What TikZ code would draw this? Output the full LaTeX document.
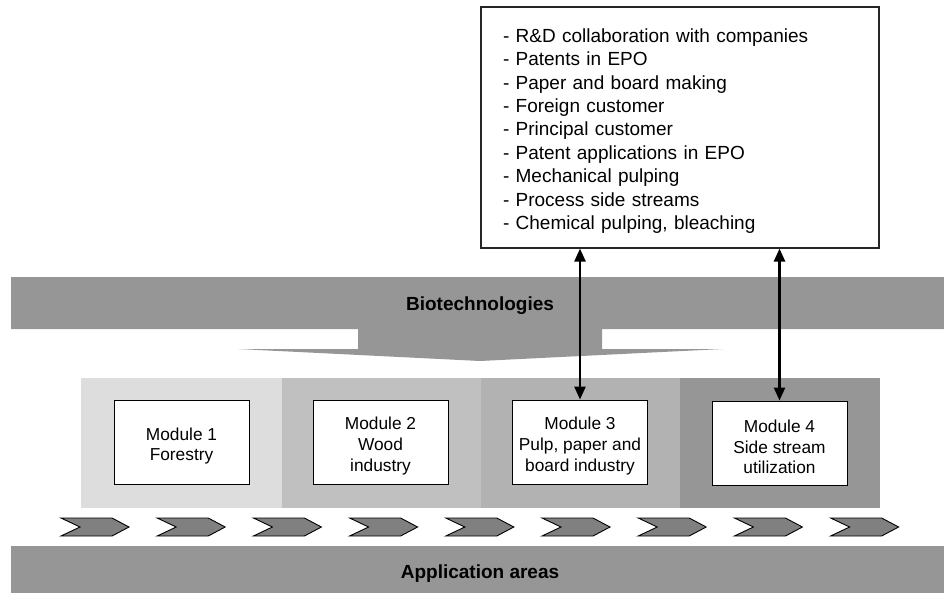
\documentclass[tikz,border=0pt]{standalone}
\usepackage{fontspec}
\setmainfont{Liberation Sans}
\usetikzlibrary{arrows.meta}

\definecolor{bandgray}{RGB}{150,150,150}
\definecolor{stageA}{RGB}{221,221,221}
\definecolor{stageB}{RGB}{192,192,192}
\definecolor{stageC}{RGB}{178,178,178}
\definecolor{stageD}{RGB}{150,150,150}
\definecolor{chevgray}{RGB}{128,128,128}

\begin{document}
\begin{tikzpicture}[x=1pt,y=-1pt,
  band/.style={fill=bandgray, draw=none},
  bandlabel/.style={font=\bfseries\fontsize{19}{22}\selectfont, inner sep=0pt},
  modbox/.style={draw=black, line width=0.9pt, fill=white,
    minimum width=135pt, minimum height=84pt, inner sep=0pt},
  modtext/.style={align=center, inner sep=0pt, yshift=-4pt,
    font=\fontsize{17.3}{20.8}\selectfont},
  listbox/.style={draw=black!85, line width=1.1pt, fill=white,
    minimum width=398pt, minimum height=241pt, inner sep=0pt},
  listtext/.style={inner sep=0pt, text width=354pt, align=left,
    font=\fontsize{19}{23.4}\selectfont},
  chevron/.style={fill=chevgray, draw=black, line width=0.9pt, line join=miter},
  link/.style={line width=2.5pt, {Triangle[length=13pt,width=11pt]}-{Triangle[length=13pt,width=11pt]}}
]
\useasboundingbox (0,0) rectangle (944,594);

% Biotechnologies band with its downward pointer
\fill[band] (11,277) -- (944,277) -- (944,329) -- (602,329) -- (602,349)
  -- (723,349) -- (480,361) -- (238,349) -- (358,349) -- (358,329)
  -- (11,329) -- cycle;
\node[bandlabel] (bio) at (480,305.5) {Biotechnologies};

% Module stages
\fill[stageA] (81,378) rectangle (282,508);
\fill[stageB] (282,378) rectangle (481,508);
\fill[stageC] (481,378) rectangle (680,508);
\fill[stageD] (680,378) rectangle (880,508);

\node[modbox, label={[modtext]center:{Module 1\\Forestry}}] (m1) at (181.5,442) {};
\node[modbox, label={[modtext]center:{Module 2\\Wood\\industry}}] (m2) at (380.5,442) {};
\node[modbox, label={[modtext]center:{Module 3\\Pulp, paper and\\board industry}}] (m3) at (580,442) {};
\node[modbox, label={[modtext]center:{Module 4\\Side stream\\utilization}}] (m4) at (779.5,443) {};

% Flow chevrons
\foreach \i in {0,...,8} {
  \pgfmathsetmacro{\xo}{61+96.2*\i}
  \draw[chevron] (\xo,518) -- ++(51,0) -- ++(17,9) -- ++(-17,9)
    -- ++(-51,0) -- ++(19,-9) -- cycle;
}

% Application areas band
\fill[band] (11,546) rectangle (944,593);
\node[bandlabel] (app) at (480,573.5) {Application areas};

% Indicator list
\node[listbox] (facts) at (680,127.5) {};
\node[listtext] (factlist) at ([yshift=-3.5pt]facts.center) {%
- R\&D collaboration with companies\\
- Patents in EPO\\
- Paper and board making\\
- Foreign customer\\
- Principal customer\\
- Patent applications in EPO\\
- Mechanical pulping\\
- Process side streams\\
- Chemical pulping, bleaching};

% Links between the list and the modules
\draw[link] (m3.north |- facts.south) -- (m3.north);
\draw[link] (m4.north |- facts.south) -- (m4.north);
\end{tikzpicture}
\end{document}
